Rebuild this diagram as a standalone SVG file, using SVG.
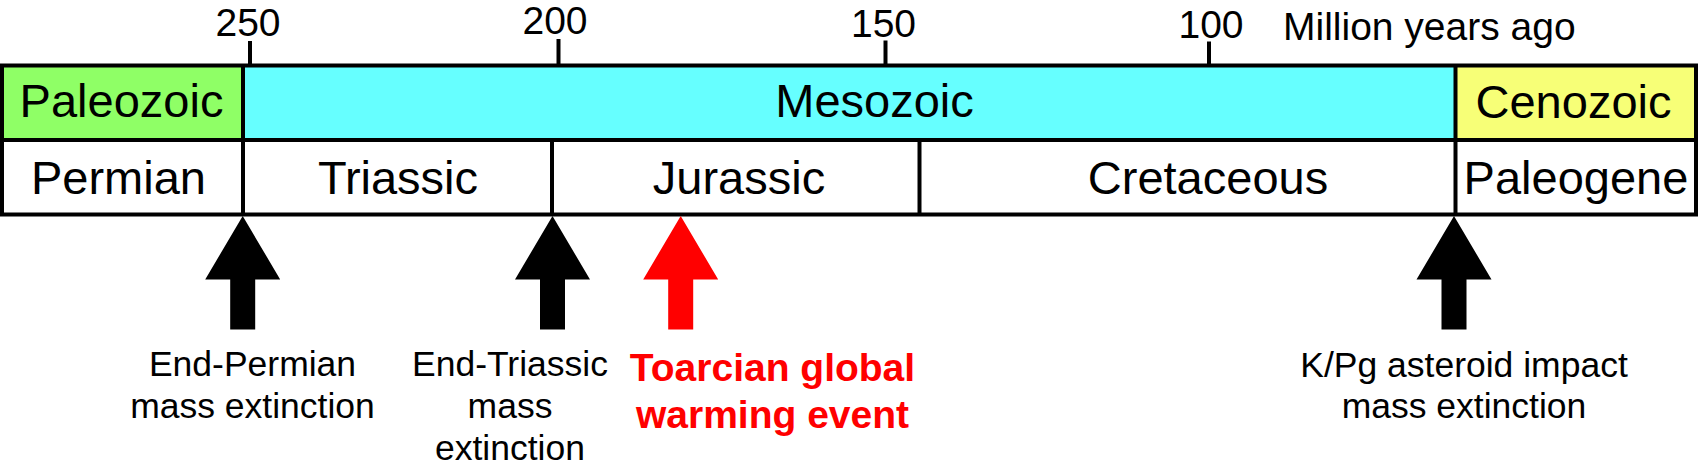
<svg xmlns="http://www.w3.org/2000/svg" width="1700" height="475" viewBox="0 0 1700 475">
  <style>
    text { font-family: "Liberation Sans", Arial, sans-serif; fill: #000; }
    .box { font-size: 47px; text-anchor: middle; }
    .scale { font-size: 39px; text-anchor: middle; }
    .lbl { font-size: 35.5px; text-anchor: middle; }
    .red { font-size: 39px; font-weight: bold; text-anchor: middle; fill: #FF0000; }
    .ln { stroke: #000; stroke-width: 4; fill: none; }
    .arrow { fill: #000; }
    .arrow-red { fill: #FF0000; }
  </style>
  <rect width="1700" height="475" fill="#FFFFFF"/>

  <g id="scale">
    <line class="ln" x1="250" y1="41" x2="250" y2="65"/>
    <line class="ln" x1="558.5" y1="39" x2="558.5" y2="65"/>
    <line class="ln" x1="885.5" y1="40.5" x2="885.5" y2="65"/>
    <line class="ln" x1="1209" y1="41.5" x2="1209" y2="65"/>
    <text class="scale" x="248" y="36">250</text>
    <text class="scale" x="555" y="33.5">200</text>
    <text class="scale" x="883.5" y="36.5">150</text>
    <text class="scale" x="1211" y="37.5">100</text>
    <text x="1283" y="39.5" font-size="39">Million years ago</text>
  </g>

  <g id="era-paleozoic">
    <rect x="2" y="65.5" width="241" height="74.5" fill="#8FFF66"/>
    <text class="box" x="121.5" y="117">Paleozoic</text>
  </g>
  <g id="era-mesozoic">
    <rect x="243" y="65.5" width="1212.5" height="74.5" fill="#66FFFF"/>
    <text class="box" x="874.5" y="117">Mesozoic</text>
  </g>
  <g id="era-cenozoic">
    <rect x="1455.5" y="65.5" width="240.5" height="74.5" fill="#F7FF77"/>
    <text class="box" x="1573.5" y="118">Cenozoic</text>
  </g>

  <g id="period-permian">
    <text class="box" x="118.5" y="194">Permian</text>
  </g>
  <g id="period-triassic">
    <text class="box" x="398" y="194">Triassic</text>
  </g>
  <g id="period-jurassic">
    <text class="box" x="739" y="194">Jurassic</text>
  </g>
  <g id="period-cretaceous">
    <text class="box" x="1208" y="194">Cretaceous</text>
  </g>
  <g id="period-paleogene">
    <text class="box" x="1576" y="194">Paleogene</text>
  </g>

  <g id="frame">
    <rect class="ln" x="2" y="65.5" width="1694" height="149"/>
    <line class="ln" x1="2" y1="140" x2="1696" y2="140"/>
    <line class="ln" x1="243" y1="65.5" x2="243" y2="214.5"/>
    <line class="ln" x1="1455.5" y1="65.5" x2="1455.5" y2="214.5"/>
    <line class="ln" x1="552" y1="140" x2="552" y2="214.5"/>
    <line class="ln" x1="919.5" y1="140" x2="919.5" y2="214.5"/>
  </g>

  <g id="connectors">
    <polygon class="arrow" points="242.7,216 280.2,279.5 255.2,279.5 255.2,329.5 230.2,329.5 230.2,279.5 205.2,279.5"/>
    <polygon class="arrow" points="552.5,216 590,279.5 565,279.5 565,329.5 540,329.5 540,279.5 515,279.5"/>
    <polygon class="arrow-red" points="680.7,216 718.2,279.5 693.2,279.5 693.2,329.5 668.2,329.5 668.2,279.5 643.2,279.5"/>
    <polygon class="arrow" points="1454,216 1491.5,279.5 1466.5,279.5 1466.5,329.5 1441.5,329.5 1441.5,279.5 1416.5,279.5"/>
  </g>

  <g id="event-end-permian">
    <text class="lbl" x="252.5" y="376">End-Permian</text>
    <text class="lbl" x="252.5" y="418">mass extinction</text>
  </g>
  <g id="event-end-triassic">
    <text class="lbl" x="510" y="376">End-Triassic</text>
    <text class="lbl" x="510" y="418">mass</text>
    <text class="lbl" x="510" y="460">extinction</text>
  </g>
  <g id="event-toarcian">
    <text class="red" x="772.5" y="381">Toarcian global</text>
    <text class="red" x="772.5" y="427.5">warming event</text>
  </g>
  <g id="event-kpg">
    <text class="lbl" x="1464" y="376.5">K/Pg asteroid impact</text>
    <text class="lbl" x="1464" y="418">mass extinction</text>
  </g>
</svg>
